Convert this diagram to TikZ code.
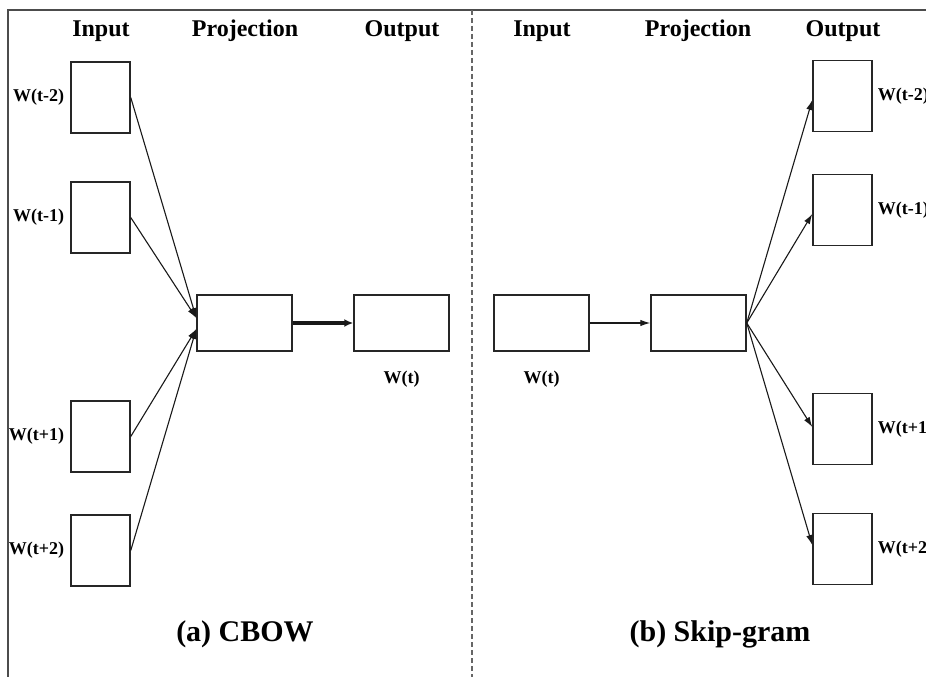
\documentclass[tikz,border=0pt]{standalone}
\usepackage{fontspec}
\setmainfont{Liberation Serif}
\usetikzlibrary{arrows.meta,calc,positioning}
\begin{document}
\begin{tikzpicture}[x=1pt,y=-1pt,
 box/.style={draw=black!85,line width=1.5pt,minimum width=59pt,minimum height=71pt,inner sep=0pt},
 wbox/.style={draw=black!85,line width=1.5pt,minimum width=95pt,minimum height=56pt,inner sep=0pt},
 head/.style={font=\fontsize{24}{28}\selectfont\bfseries,inner sep=0pt},
 lab/.style={font=\fontsize{18}{21}\selectfont\bfseries,inner sep=0pt},
 captext/.style={font=\fontsize{30}{34}\selectfont\bfseries,inner sep=0pt},
 arr/.style={-{Latex[length=10pt,width=6.5pt]},line width=1.1pt,draw=black!90},
 thickarr/.style={-{Latex[length=9pt,width=8pt]},line width=3.2pt,draw=black!90},
]
\useasboundingbox (0,0) rectangle (926,677);
\clip (0,0) rectangle (926,677);
\fill[white] (0,0) rectangle (926,677);
% frame and divider
\draw[black!70,line width=1.3pt] (8,690) -- (8,10) -- (940,10);
\draw[black!60,line width=1.3pt,dash pattern=on 5pt off 3pt] (472,10) -- (472,690);

% headers
\node[head] (h1) at (101,31) {Input};
\node[head] (h2) at (245,31) {Projection};
\node[head] (h3) at (402,31) {Output};
\node[head] (h4) at (542,31) {Input};
\node[head] (h5) at (698,31) {Projection};
\node[head] (h6) at (843,31) {Output};

% CBOW
\node[box] (a1) at (100.5,97.5) {};
\node[box] (a2) at (100.5,217.5) {};
\node[box] (a3) at (100.5,436.5) {};
\node[box] (a4) at (100.5,550.5) {};
\node[wbox] (ap) at (244.5,323) {};
\node[wbox] (ao) at (401.5,323) {};
\node[lab,left=6pt of a1] (la1) {W(t-2)};
\node[lab,left=6pt of a2] (la2) {W(t-1)};
\node[lab,left=6pt of a3] (la3) {W(t+1)};
\node[lab,left=6pt of a4] (la4) {W(t+2)};
\node[lab,below=19pt of ao] (lao) {W(t)};
\coordinate (apu) at ($(ap.west)+(0,-5)$);
\coordinate (apd) at ($(ap.west)+(0,6)$);
\draw[arr] (a1.east) -- (apu);
\draw[arr] (a2.east) -- (apu);
\draw[arr] (a3.east) -- (apd);
\draw[arr] (a4.east) -- (apd);
\draw[thickarr] (ap.east) -- (ao.west);
\node[captext] (capa) at (245,634) {(a) CBOW};

% Skip-gram
\node[wbox] (bi) at (541.5,323) {};
\node[wbox] (bp) at (698.5,323) {};
\node[box] (b1) at (842.5,96) {};
\node[box] (b2) at (842.5,210) {};
\node[box] (b3) at (842.5,429) {};
\node[box] (b4) at (842.5,549) {};
\node[lab,below=19pt of bi] (lbi) {W(t)};
\node[lab,right=5pt of b1] (lb1) {W(t-2)};
\node[lab,right=5pt of b2] (lb2) {W(t-1)};
\node[lab,right=5pt of b3] (lb3) {W(t+1)};
\node[lab,right=5pt of b4] (lb4) {W(t+2)};
\draw[arr] (bi.east) -- (bp.west);
\draw[arr] (bp.east) -- ($(b1.west)+(0,4)$);
\draw[arr] (bp.east) -- ($(b2.west)+(0,4)$);
\draw[arr] (bp.east) -- ($(b3.west)+(0,-2)$);
\draw[arr] (bp.east) -- ($(b4.west)+(0,-4)$);
\node[captext] (capb) at (720,634) {(b) Skip-gram};
\end{tikzpicture}
\end{document}
